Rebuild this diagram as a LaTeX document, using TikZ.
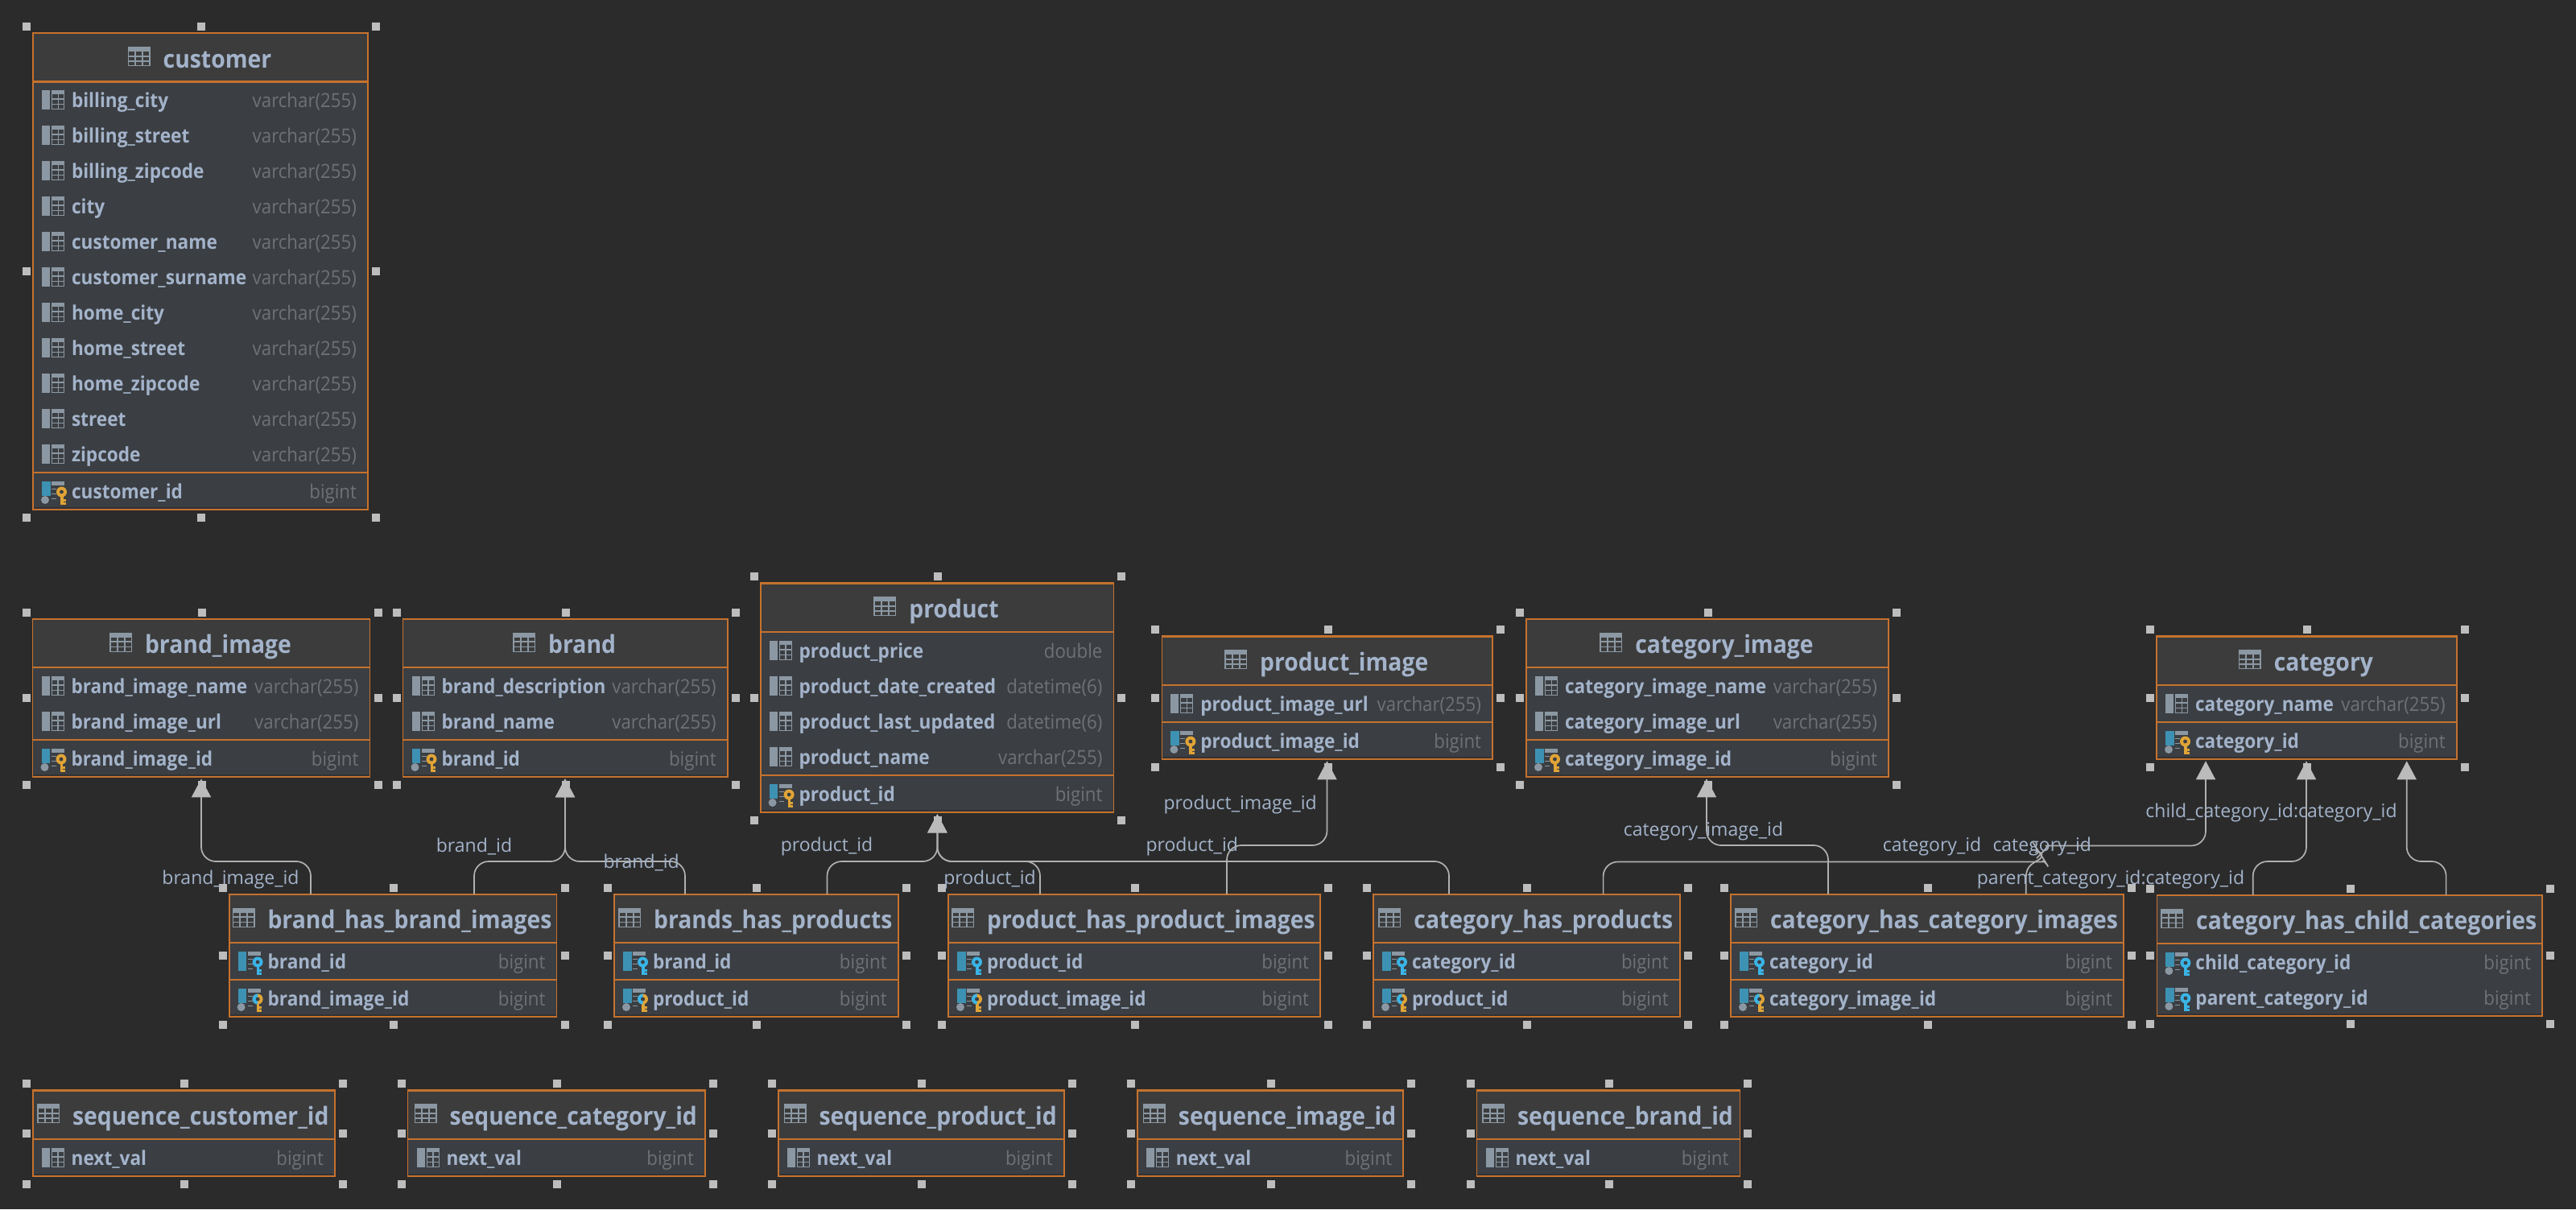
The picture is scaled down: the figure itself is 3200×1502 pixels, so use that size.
\documentclass[tikz,border=0pt]{standalone}
\usepackage{fontspec}
\setmainfont{Open Sans}
\newfontfamily\narrowfam[FakeStretch=0.92]{Open Sans}
\usetikzlibrary{arrows.meta}
\definecolor{bgc}{HTML}{2B2B2B}
\definecolor{bodyc}{HTML}{3B3E42}
\definecolor{headc}{HTML}{3C3C3C}
\definecolor{edgec}{HTML}{C6722E}
\definecolor{namec}{HTML}{A3B3CA}
\definecolor{typec}{HTML}{6F7275}
\definecolor{handc}{HTML}{BDBDBD}
\definecolor{connc}{HTML}{B0B0B0}
\definecolor{tipc}{HTML}{BBBBBB}
\definecolor{icong}{HTML}{8B98A3}
\definecolor{barb}{HTML}{3D92B3}
\definecolor{keyg}{HTML}{E0A436}
\definecolor{keyb}{HTML}{3AB4E6}
\newcommand{\ttfnt}{\narrowfam\fontsize{30.8}{32}\bfseries\selectfont}
\newcommand{\rowfnt}{\narrowfam\fontsize{24.6}{26}\bfseries\selectfont}
\newcommand{\typfnt}{\narrowfam\fontsize{24.2}{26}\selectfont}
\newcommand{\lblfnt}{\fontsize{23}{25}\selectfont}
\tikzset{
  tablebox/.style={fill=bodyc,inner sep=0pt,outer sep=0pt,anchor=north west},
  titletext/.style={inner sep=0pt,outer sep=0pt,anchor=base,text=namec,font=\ttfnt},
  nametext/.style={inner sep=0pt,outer sep=0pt,anchor=base west,text=namec,font=\rowfnt},
  typetext/.style={inner sep=0pt,outer sep=0pt,anchor=base east,text=typec,font=\typfnt},
  linklabel/.style={inner sep=0pt,outer sep=0pt,text=namec,font=\lblfnt},
  edgeline/.style={draw=edgec,line width=1.8pt},
  sepline/.style={draw=edgec,line width=2.4pt},
  handle/.style={fill=handc},
  fk/.style={draw=connc,line width=1.7pt,rounded corners=18pt,shorten >=2pt,
    -{Triangle[width=24pt,length=23pt,color=tipc]}},
  plain/.style={draw=connc,line width=1.7pt,rounded corners=18pt},
  pics/tabicon/.style={code={
    \fill[icong] (0,0) rectangle (28,24);
    \foreach \cy in {6,12.5,18.5}{\foreach \cx in {1.5,10.5,19.5}{
      \fill[headc] (\cx,\cy) rectangle ({\cx+7},{\cy+4.5});}}
  }},
  pics/colicon/.style={code={
    \fill[icong] (0,0) rectangle (10,24);
    \fill[icong] (12,0) rectangle (28,24);
    \foreach \cy in {5,11.5,18}{
      \fill[bodyc] (13,\cy) rectangle (19.5,{\cy+5});
      \fill[bodyc] (21,\cy) rectangle (27,{\cy+5});}
  }},
  pics/keybase/.style={code={
    \fill[barb] (0,0) rectangle (10.5,#1);
    \fill[icong] (12,0) rectangle (28,4.5);
    \foreach \cy in {8.5,14.5,20.5}{\fill[icong] (12,\cy) rectangle (18,{\cy+1.6});}
  }},
  pics/dot/.style={code={\fill[icong] (4,23) circle (5);}},
  pics/thekey/.style={code={
    \fill[#1] (24.5,13) circle (6.5);
    \fill[#1] (23,15) rectangle (26.5,28.5);
    \fill[#1] (26,22) rectangle (29.5,24.5);
    \fill[#1] (26,26) rectangle (29.5,28.5);
    \fill[bodyc] (24.5,13) circle (2.4);
  }},
  pics/halfkey/.style={code={
    \begin{scope}
      \clip (17,5) rectangle (24.5,28.5);
      \fill[keyb] (24.5,13) circle (6.5);
    \end{scope}
    \fill[bodyc] (24.5,13) circle (2.4);
  }},
}
% \tbl{id}{x1}{y1}{x2}{y2}{title}
\newcommand{\tbl}[6]{%
  \def\xa{#2}\def\ya{#3}\def\xb{#4}\def\yb{#5}%
  \pgfmathsetmacro\ys{#3+60.5}%
  \node[tablebox,minimum width={(#4-#2)*1pt},minimum height={(#5-#3)*1pt}] (#1) at (#2,#3) {};%
  \fill[headc] (#2,#3) rectangle (#4,\ys);%
  \fill[bgc!60!bodyc] (#2,{#5-3}) rectangle (#4,#5);%
  \draw[edgeline] (#2,#3) rectangle (#4,#5);%
  \draw[sepline] (#2,#3) -- (#4,#3);%
  \draw[sepline] (#2,\ys) -- (#4,\ys);%
  \node[titletext] (#1-title) at ({(#2+#4)/2+21},{#3+43}) {#6};%
  \pic at ([xshift=-44pt,yshift=26pt]#1-title.base west) {tabicon};%
  \foreach \hx in {{#2-8},{(#2+#4)/2+1},{#4+10}}{\foreach \hy in {{#3-8},{#5+10}}{%
    \fill[handle] ({\hx-5},{\hy-5}) rectangle ({\hx+5},{\hy+5});}}%
  \foreach \hx in {{#2-8},{#4+10}}{\fill[handle] ({\hx-5},{(#3+#5)/2-5}) rectangle ({\hx+5},{(#3+#5)/2+5});}%
}
\newcommand{\sepat}[1]{\draw[sepline] (\xa,#1) -- (\xb,#1);}
\newcommand{\crow}[4]{%
  \pic at ({\xa+11},{#4-12}) {colicon};%
  \node[nametext] (#1) at ({\xa+48},{#4+9.5}) {#2};%
  \node[typetext] (#1-type) at ({\xb-14},{#4+9.5}) {#3};}
\newcommand{\krow}[5]{%
  \node[nametext] (#1) at ({\xa+48},{#4+9.5}) {#2};%
  \node[typetext] (#1-type) at ({\xb-14},{#4+9.5}) {#3};%
  \begin{scope}[shift={({\xa+11},{#4-12})}]
    \if#5b\pic at (0,0) {keybase=24};\pic at (0,0) {thekey=keyb};\fi
    \if#5g\pic at (0,0) {keybase=17.5};\pic at (0,0) {dot};\pic at (0,0) {thekey=keyg};\fi
    \if#5h\pic at (0,0) {keybase=17.5};\pic at (0,0) {dot};\pic at (0,0) {thekey=keyg};\pic at (0,0) {halfkey};\fi
    \if#5c\pic at (0,0) {keybase=17.5};\pic at (0,0) {dot};\pic at (0,0) {thekey=keyb};\fi
  \end{scope}}
\begin{document}
\begin{tikzpicture}[x=1pt,y=-1pt]
\fill[bgc] (0,0) rectangle (3200,1502);
\useasboundingbox (0,0) rectangle (3200,1502);

% ---------- tables ----------
\tbl{customer}{41}{41}{457}{633}{customer}
\crow{c1}{billing\_city}{varchar(255)}{124}
\crow{c2}{billing\_street}{varchar(255)}{168}
\crow{c3}{billing\_zipcode}{varchar(255)}{212}
\crow{c4}{city}{varchar(255)}{256}
\crow{c5}{customer\_name}{varchar(255)}{300}
\crow{c6}{customer\_surname}{varchar(255)}{344}
\crow{c7}{home\_city}{varchar(255)}{388}
\crow{c8}{home\_street}{varchar(255)}{432}
\crow{c9}{home\_zipcode}{varchar(255)}{476}
\crow{c10}{street}{varchar(255)}{520}
\crow{c11}{zipcode}{varchar(255)}{564}
\sepat{587}
\krow{c12}{customer\_id}{bigint}{610}{g}

\tbl{brandimage}{40.5}{768.7}{459.5}{965.3}{brand\_image}
\crow{bi1}{brand\_image\_name}{varchar(255)}{852}
\crow{bi2}{brand\_image\_url}{varchar(255)}{896}
\sepat{919}
\krow{bi3}{brand\_image\_id}{bigint}{942}{g}

\tbl{brand}{500.5}{768.7}{903.7}{965.3}{brand}
\crow{b1}{brand\_description}{varchar(255)}{852}
\crow{b2}{brand\_name}{varchar(255)}{896}
\sepat{919}
\krow{b3}{brand\_id}{bigint}{942}{g}

\tbl{product}{944.6}{724.3}{1383.4}{1009.3}{product}
\crow{p1}{product\_price}{double}{808}
\crow{p2}{product\_date\_created}{datetime(6)}{852}
\crow{p3}{product\_last\_updated}{datetime(6)}{896}
\crow{p4}{product\_name}{varchar(255)}{940}
\sepat{962.7}
\krow{p5}{product\_id}{bigint}{986}{g}

\tbl{productimage}{1443.4}{790.3}{1854}{943.3}{product\_image}
\crow{pi1}{product\_image\_url}{varchar(255)}{874}
\sepat{897}
\krow{pi2}{product\_image\_id}{bigint}{920}{g}

\tbl{categoryimage}{1896}{768.7}{2346}{965.3}{category\_image}
\crow{ci1}{category\_image\_name}{varchar(255)}{852}
\crow{ci2}{category\_image\_url}{varchar(255)}{896}
\sepat{919}
\krow{ci3}{category\_image\_id}{bigint}{942}{g}

\tbl{category}{2679}{790.3}{3051.7}{943.3}{category}
\crow{ca1}{category\_name}{varchar(255)}{874}
\sepat{897}
\krow{ca2}{category\_id}{bigint}{920}{g}

\tbl{bhbi}{284.6}{1110.7}{691.5}{1263}{brand\_has\_brand\_images}
\krow{bhbi1}{brand\_id}{bigint}{1194}{b}
\sepat{1216.7}
\krow{bhbi2}{brand\_image\_id}{bigint}{1240}{h}

\tbl{bhp}{763}{1110.7}{1115.6}{1263}{brands\_has\_products}
\krow{bhp1}{brand\_id}{bigint}{1194}{b}
\sepat{1216.7}
\krow{bhp2}{product\_id}{bigint}{1240}{h}

\tbl{phpi}{1178}{1110.7}{1640}{1263}{product\_has\_product\_images}
\krow{phpi1}{product\_id}{bigint}{1194}{b}
\sepat{1216.7}
\krow{phpi2}{product\_image\_id}{bigint}{1240}{h}

\tbl{chp}{1706}{1110.7}{2086.6}{1263}{category\_has\_products}
\krow{chp1}{category\_id}{bigint}{1194}{b}
\sepat{1216.7}
\krow{chp2}{product\_id}{bigint}{1240}{h}

\tbl{chci}{2150}{1110.7}{2638}{1263}{category\_has\_category\_images}
\krow{chci1}{category\_id}{bigint}{1194}{b}
\sepat{1216.7}
\krow{chci2}{category\_image\_id}{bigint}{1240}{h}

\tbl{chcc}{2679.4}{1111.7}{3158}{1262}{category\_has\_child\_categories}
\krow{chcc1}{child\_category\_id}{bigint}{1195}{c}
\krow{chcc2}{parent\_category\_id}{bigint}{1239}{c}

\tbl{seqcustomer}{40.7}{1354.3}{416}{1461.3}{sequence\_customer\_id}
\crow{s1}{next\_val}{bigint}{1438}
\tbl{seqcategory}{506.5}{1354.3}{876}{1461.3}{sequence\_category\_id}
\crow{s2}{next\_val}{bigint}{1438}
\tbl{seqproduct}{966.7}{1354.3}{1321.7}{1461.3}{sequence\_product\_id}
\crow{s3}{next\_val}{bigint}{1438}
\tbl{seqimage}{1412.9}{1354.3}{1743.3}{1461.3}{sequence\_image\_id}
\crow{s4}{next\_val}{bigint}{1438}
\tbl{seqbrand}{1834.5}{1354.3}{2161.4}{1461.3}{sequence\_brand\_id}
\crow{s5}{next\_val}{bigint}{1438}

% ---------- connectors ----------
\draw[fk] (386,0 |- bhbi.north) -- (386,1070) -- (250,1070) -- (250,0 |- brandimage.south);
\draw[fk] (589,0 |- bhbi.north) -- (589,1070) -- (702,1070) -- (702,0 |- brand.south);
\draw[fk] (851,0 |- bhp.north) -- (851,1070) -- (702,1070) -- (702,0 |- brand.south);
\draw[fk] (1027.5,0 |- bhp.north) -- (1027.5,1070) -- (1164.4,1070) -- (1164.4,0 |- product.south);
\draw[fk] (1292,0 |- phpi.north) -- (1292,1070) -- (1164.4,1070) -- (1164.4,0 |- product.south);
\draw[fk] (1800,0 |- chp.north) -- (1800,1070) -- (1164.4,1070) -- (1164.4,0 |- product.south);
\draw[fk] (1524,0 |- phpi.north) -- (1524,1050) -- (1648.5,1050) -- (1648.5,0 |- productimage.south);
\draw[fk] (2271,0 |- chci.north) -- (2271,1050) -- (2120,1050) -- (2120,0 |- categoryimage.south);
\draw[fk] (2798.7,0 |- chcc.north) -- (2798.7,1070) -- (2865,1070) -- (2865,0 |- category.south);
\draw[fk] (3038.6,0 |- chcc.north) -- (3038.6,1070) -- (2989.7,1070) -- (2989.7,0 |- category.south);
\draw[fk] (2530,1066) .. controls (2540,1056) and (2545,1050.5) .. (2560,1050.5) -- (2740,1050.5) -- (2740,0 |- category.south);
\draw[plain] (1991.6,0 |- chp.north) -- (1991.6,1070.5) -- (2522,1070.5) .. controls (2534,1070.5) and (2538,1066) .. (2535,1061) .. controls (2533,1058) and (2530,1058) .. (2528,1059);
\draw[plain,rounded corners=0pt] (2516.7,0 |- chci.north) -- (2516.7,1090) .. controls (2517,1076) and (2524,1073) .. (2534,1067) .. controls (2538,1063) and (2537,1059) .. (2532,1058);

% ---------- labels ----------
\node[linklabel] (l1) at (286.5,1092.7) {brand\_image\_id};
\node[linklabel] (l2) at (589,1051.7) {brand\_id};
\node[linklabel] (l3) at (796.7,1072) {brand\_id};
\node[linklabel] (l4) at (1027,1051.7) {product\_id};
\node[linklabel] (l5) at (1229.5,1092.7) {product\_id};
\node[linklabel] (l6) at (1480.7,1051.7) {product\_id};
\node[linklabel] (l7) at (1540.7,1000) {product\_image\_id};
\node[linklabel] (l8) at (2116,1032.7) {category\_image\_id};
\node[linklabel] (l9) at (2400,1051.7) {category\_id};
\node[linklabel] (l10) at (2536.7,1051.7) {category\_id};
\node[linklabel] (l11) at (2622,1092.7) {parent\_category\_id:category\_id};
\node[linklabel] (l12) at (2821.5,1010) {child\_category\_id:category\_id};
\end{tikzpicture}
\end{document}
